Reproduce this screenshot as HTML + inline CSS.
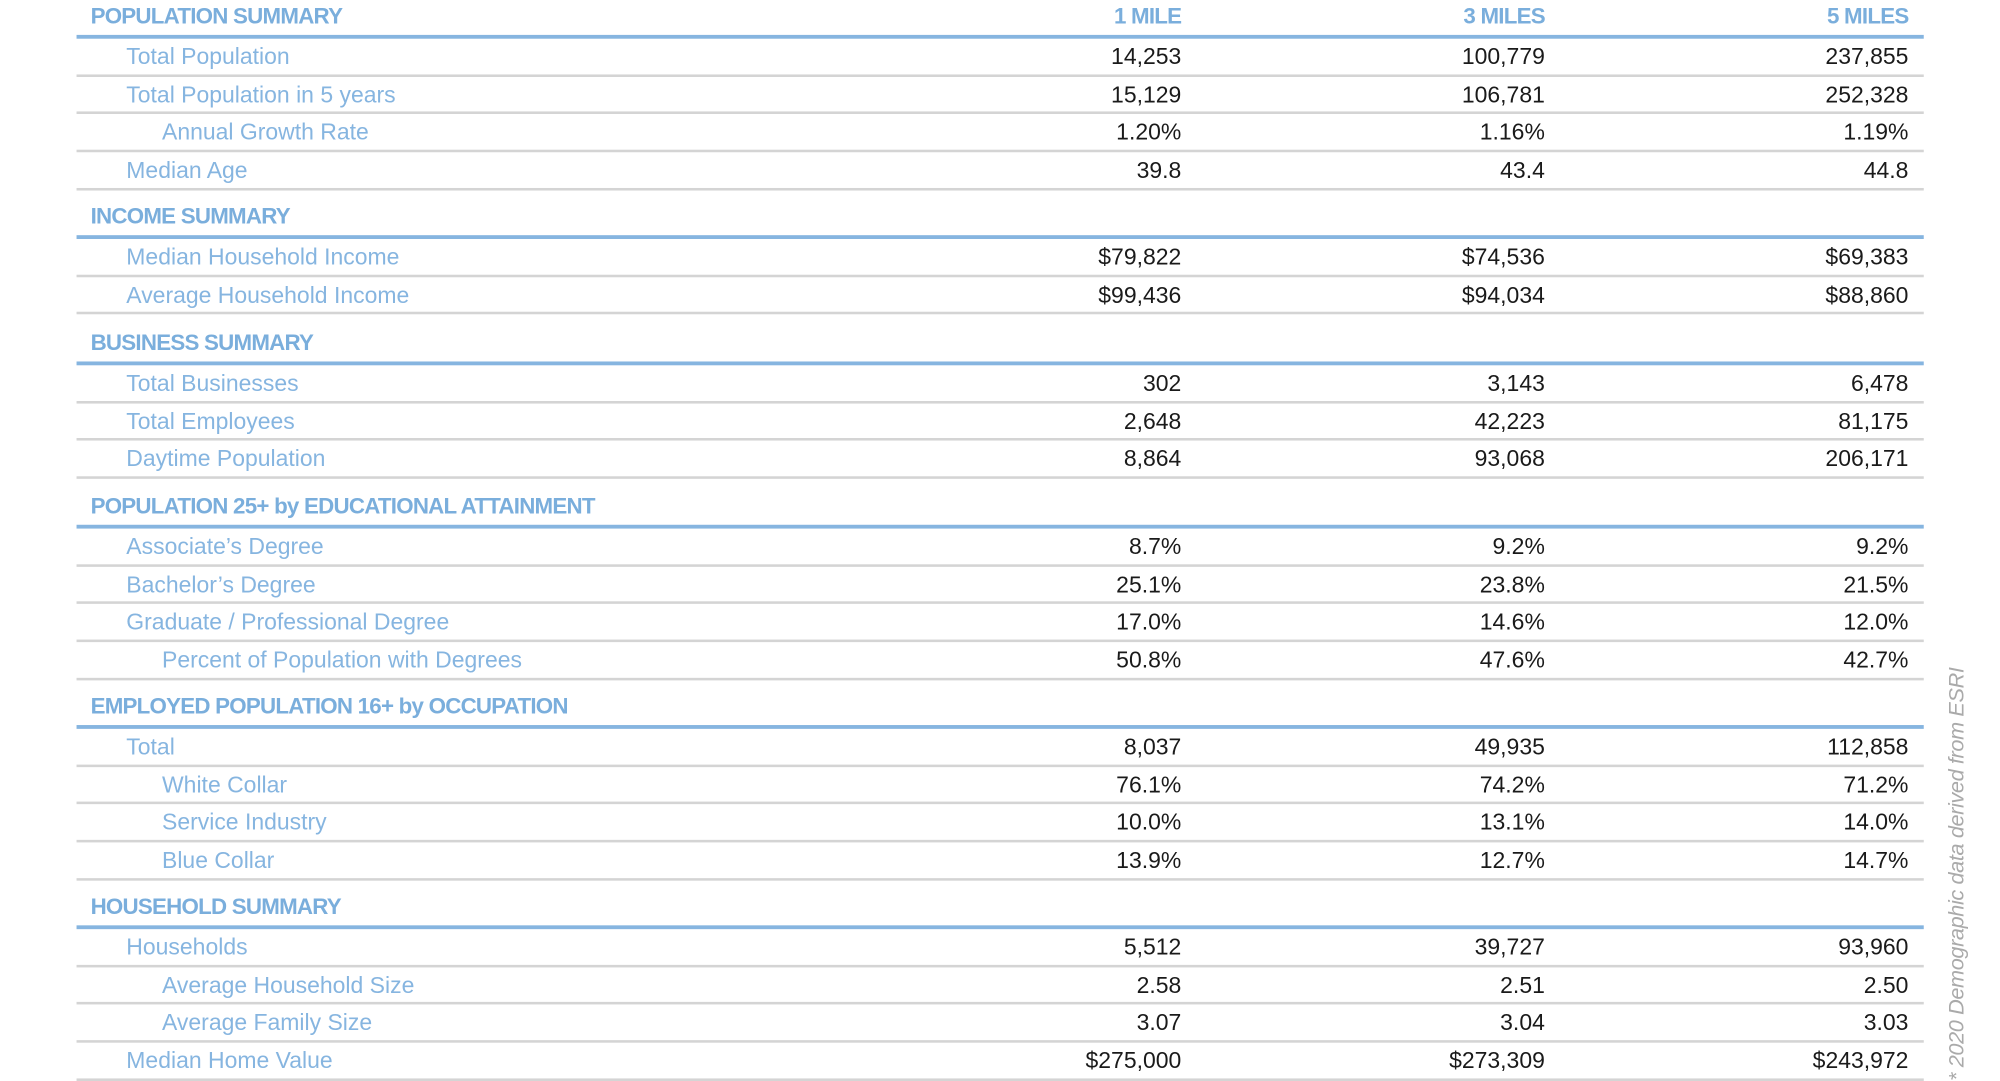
<!DOCTYPE html>
<html><head><meta charset="utf-8"><style>
html,body{margin:0;padding:0;background:#fff;width:2000px;height:1080px;overflow:hidden}
#w{position:absolute;left:0;top:3px;width:1560px;height:843px;transform:scale(1.2757);transform-origin:0 0;font-family:"Liberation Sans Narrow","Liberation Sans",sans-serif;font-size:18px}
.sec{position:absolute;left:60px;width:1448px}
.h{height:38px;border-bottom:3px solid #86b5e0;box-sizing:border-box;position:relative}
.h span{position:absolute;left:11px;bottom:4px;color:#7aaedc;font-weight:bold;font-size:17.5px;letter-spacing:-0.6px}
.h b{position:absolute;bottom:4px;color:#7aaedc;font-size:17.5px;width:200px;text-align:right;letter-spacing:-0.6px}
.r{height:29.7px;border-bottom:2px solid #d4d4d4;box-sizing:border-box;position:relative;line-height:29px}
.r .l{position:absolute;left:39px;color:#86b5e0}
.r .l.i{left:67px}
.r .v{position:absolute;width:200px;text-align:right;color:#1a1a1a}
.c1{left:666px}.c2{left:951px}.c3{left:1236px}
#note{position:absolute;left:1535px;top:845px;transform:rotate(-90deg);transform-origin:0 0;white-space:nowrap;color:#aaa;font-style:italic;font-size:17px;margin-left:-11px;letter-spacing:-0.3px}
</style></head><body><div id="w">
<div class="sec" style="top:-10px">
<div class="h"><span>POPULATION SUMMARY</span><b class="c1">1 MILE</b><b class="c2">3 MILES</b><b class="c3">5 MILES</b></div>
<div class="r"><span class="l">Total Population</span><span class="v c1">14,253</span><span class="v c2">100,779</span><span class="v c3">237,855</span></div>
<div class="r"><span class="l">Total Population in 5 years</span><span class="v c1">15,129</span><span class="v c2">106,781</span><span class="v c3">252,328</span></div>
<div class="r"><span class="l i">Annual Growth Rate</span><span class="v c1">1.20%</span><span class="v c2">1.16%</span><span class="v c3">1.19%</span></div>
<div class="r"><span class="l">Median Age</span><span class="v c1">39.8</span><span class="v c2">43.4</span><span class="v c3">44.8</span></div>
</div>
<div class="sec" style="top:147px">
<div class="h"><span>INCOME SUMMARY</span></div>
<div class="r"><span class="l">Median Household Income</span><span class="v c1">$79,822</span><span class="v c2">$74,536</span><span class="v c3">$69,383</span></div>
<div class="r"><span class="l">Average Household Income</span><span class="v c1">$99,436</span><span class="v c2">$94,034</span><span class="v c3">$88,860</span></div>
</div>
<div class="sec" style="top:246px">
<div class="h"><span>BUSINESS SUMMARY</span></div>
<div class="r"><span class="l">Total Businesses</span><span class="v c1">302</span><span class="v c2">3,143</span><span class="v c3">6,478</span></div>
<div class="r"><span class="l">Total Employees</span><span class="v c1">2,648</span><span class="v c2">42,223</span><span class="v c3">81,175</span></div>
<div class="r"><span class="l">Daytime Population</span><span class="v c1">8,864</span><span class="v c2">93,068</span><span class="v c3">206,171</span></div>
</div>
<div class="sec" style="top:374px">
<div class="h"><span>POPULATION 25+ by EDUCATIONAL ATTAINMENT</span></div>
<div class="r"><span class="l">Associate’s Degree</span><span class="v c1">8.7%</span><span class="v c2">9.2%</span><span class="v c3">9.2%</span></div>
<div class="r"><span class="l">Bachelor’s Degree</span><span class="v c1">25.1%</span><span class="v c2">23.8%</span><span class="v c3">21.5%</span></div>
<div class="r"><span class="l">Graduate / Professional Degree</span><span class="v c1">17.0%</span><span class="v c2">14.6%</span><span class="v c3">12.0%</span></div>
<div class="r"><span class="l i">Percent of Population with Degrees</span><span class="v c1">50.8%</span><span class="v c2">47.6%</span><span class="v c3">42.7%</span></div>
</div>
<div class="sec" style="top:531px">
<div class="h"><span>EMPLOYED POPULATION 16+ by OCCUPATION</span></div>
<div class="r"><span class="l">Total</span><span class="v c1">8,037</span><span class="v c2">49,935</span><span class="v c3">112,858</span></div>
<div class="r"><span class="l i">White Collar</span><span class="v c1">76.1%</span><span class="v c2">74.2%</span><span class="v c3">71.2%</span></div>
<div class="r"><span class="l i">Service Industry</span><span class="v c1">10.0%</span><span class="v c2">13.1%</span><span class="v c3">14.0%</span></div>
<div class="r"><span class="l i">Blue Collar</span><span class="v c1">13.9%</span><span class="v c2">12.7%</span><span class="v c3">14.7%</span></div>
</div>
<div class="sec" style="top:688px">
<div class="h"><span>HOUSEHOLD SUMMARY</span></div>
<div class="r"><span class="l">Households</span><span class="v c1">5,512</span><span class="v c2">39,727</span><span class="v c3">93,960</span></div>
<div class="r"><span class="l i">Average Household Size</span><span class="v c1">2.58</span><span class="v c2">2.51</span><span class="v c3">2.50</span></div>
<div class="r"><span class="l i">Average Family Size</span><span class="v c1">3.07</span><span class="v c2">3.04</span><span class="v c3">3.03</span></div>
<div class="r"><span class="l">Median Home Value</span><span class="v c1">$275,000</span><span class="v c2">$273,309</span><span class="v c3">$243,972</span></div>
</div>
<div id="note">* 2020 Demographic data derived from ESRI</div>
</div></body></html>
